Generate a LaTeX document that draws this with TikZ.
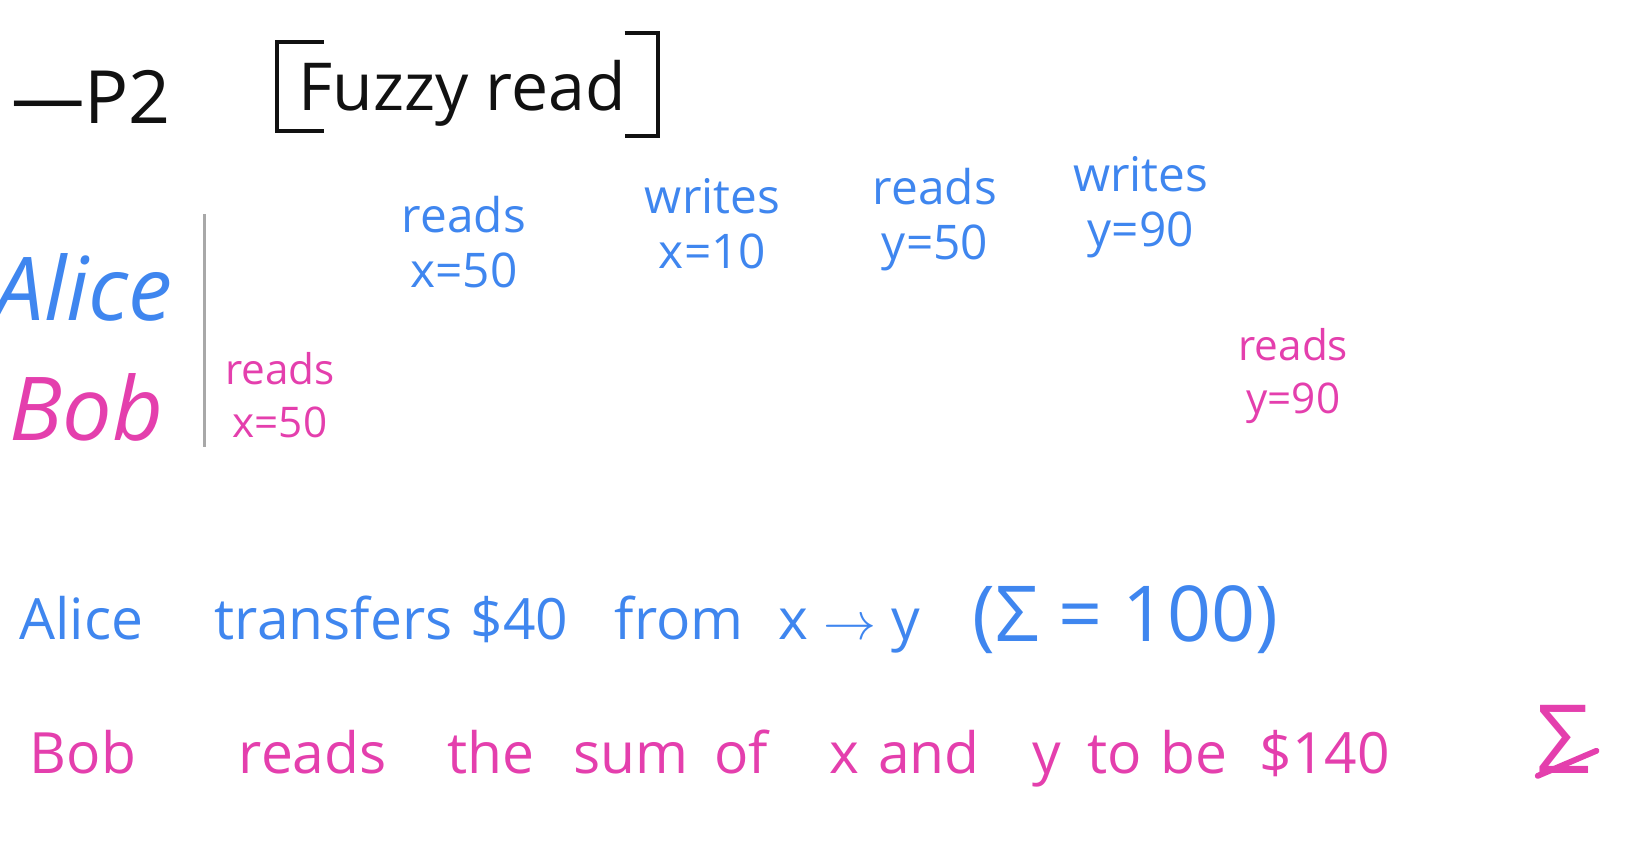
\documentclass[tikz,border=0pt]{standalone}
\usepackage{amsmath,amssymb}
\usepackage{fontspec}
\setmainfont{Open Sans}
\usepackage{xcolor}
\usepackage{tikz}
\usetikzlibrary{positioning,calc}
\definecolor{NoteInk}{HTML}{111111}
\definecolor{NoteBlue}{HTML}{3F86EF}
\definecolor{NotePink}{HTML}{E43FAD}
\definecolor{NoteGrey}{HTML}{A8A8A8}
\tikzset{
  titletxt/.style={text=NoteInk, font=\fontsize{18}{20}\selectfont, inner sep=0pt},
  bracketline/.style={draw=NoteInk, line width=1.1pt},
  whotxt/.style={font=\fontsize{24}{26}\selectfont\itshape, inner sep=0pt},
  optxt/.style={align=center, font=\fontsize{13}{15}\selectfont, inner sep=0pt},
  bobop/.style={optxt, font=\fontsize{11.5}{14.5}\selectfont},
  lanerule/.style={draw=NoteGrey, line width=0.9pt},
  wordtxt/.style={anchor=base west, font=\fontsize{15.5}{18}\selectfont, inner sep=0pt}
}
\begin{document}
\begin{tikzpicture}[x=0.01cm, y=-0.01cm]
  \useasboundingbox (0,0) rectangle (1568,808);
  % heading
  \node[titletxt, anchor=base west, font=\fontsize{20}{22}\selectfont] (ptwo) at (10,118) {---P2};
  \node[titletxt, anchor=base west] (fuzzy) at (285,106) {Fuzzy read};
  \draw[bracketline] (310,40) -| (265,125) -- (310,125);
  \draw[bracketline] (598,32) -| (630,130) -- (598,130);
  % lanes
  \node[whotxt, text=NoteBlue] (alice) at (80,275) {Alice};
  \node[whotxt, text=NotePink] (bob) at (83,390) {Bob};
  \coordinate (lanetop) at (196,205);
  \coordinate (lanebot) at (196,428);
  \draw[lanerule] (lanetop) -- (lanebot);
  % Alice's operations
  \node[optxt, text=NoteBlue] (arx) at (444,232) {reads\\x=50};
  \node[optxt, text=NoteBlue] (awx) at (682,214) {writes\\x=10};
  \node[optxt, text=NoteBlue] (ary) at (895,210) {reads\\y=50};
  \node[optxt, text=NoteBlue] (awy) at (1092,198) {writes\\y=90};
  % Bob's operations
  \node[bobop, text=NotePink] (brx) at (268,378) {reads\\x=50};
  \node[bobop, text=NotePink] (bry) at (1238,360) {reads\\y=90};
  % summary lines
  \foreach \wx/\wt [count=\i] in {18/Alice, 205/transfers, 450/\$40, 588/from, 745/{x $\rightarrow$ y}}
    \node[wordtxt, text=NoteBlue] (aw\i) at (\wx,612) {\wt};
  \node[wordtxt, text=NoteBlue, font=\fontsize{21}{23}\selectfont] (asum) at (930,614) {(Σ = 100)};
  \foreach \wx/\wt [count=\i] in {28/Bob, 228/reads, 428/the, 548/sum, 683/of, 793/x, 840/and, 988/y, 1040/to, 1110/be, 1205/\$140}
    \node[wordtxt, text=NotePink] (bw\i) at (\wx,740) {\wt};
  \node[wordtxt, text=NotePink, font=\fontsize{26}{28}\selectfont] (bneq) at (1470,740) {Σ};
  \draw[NotePink, line width=1.6pt, line cap=round] ($(bneq.south west)+(2,2)$) -- ($(bneq.south east)+(5,-22)$);
\end{tikzpicture}
\end{document}
